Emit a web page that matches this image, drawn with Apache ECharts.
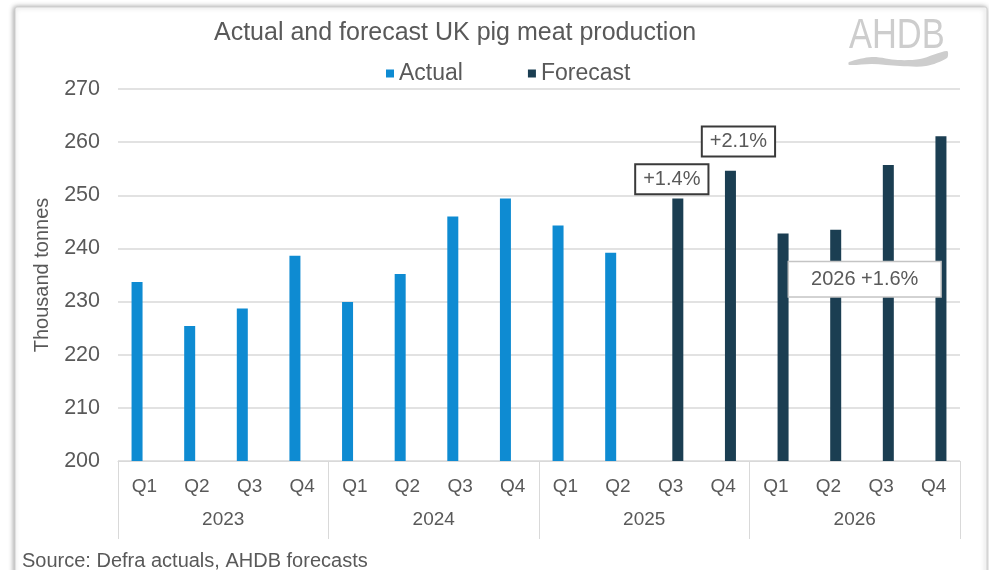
<!DOCTYPE html>
<html>
<head>
<meta charset="utf-8">
<script src="https://cdn.jsdelivr.net/npm/echarts@6/dist/echarts.min.js"></script>
<style>
  html, body { margin: 0; padding: 0; background: #fff; }
  #chart { width: 989px; height: 570px; }
</style>
</head>
<body>
<div id="chart"></div>
<script>
// Quarterly UK pig meat production, thousand tonnes
const quarters = ['Q1','Q2','Q3','Q4','Q1','Q2','Q3','Q4','Q1','Q2','Q3','Q4','Q1','Q2','Q3','Q4'];
const years = ['2023', '2024', '2025', '2026'];
const actual = [233.7, 225.4, 228.7, 238.6, 229.9, 235.2, 246.0, 249.4, 244.3, 239.2,
                null, null, null, null, null, null];
const forecast = [null, null, null, null, null, null, null, null, null, null,
                  249.4, 254.6, 242.8, 243.5, 255.7, 261.1];
const yTicks = { min: 200, max: 270, step: 10 };

// Growth call-outs: [category index, value anchor, text]
const callouts = [
  [10, 253.0, '+1.4%'],
  [11, 260.1, '+2.1%'],
  [13, 234.2, '2026 +1.6%']
];

const textGrey = '#595959';
const gridGrey = '#d9d9d9';
const font = '"Liberation Sans", Arial, sans-serif';

const chart = echarts.init(document.getElementById('chart'), null, { renderer: 'canvas' });

function calloutLabel(text, dx, border, bw, pad) {
  return {
    show: true, formatter: text, position: 'inside', offset: [dx, 0],
    fontFamily: font, fontSize: 20, color: textGrey,
    backgroundColor: '#fff', borderColor: border, borderWidth: bw,
    padding: pad
  };
}

const option = {
  backgroundColor: '#ffffff',
  animation: false,
  textStyle: { fontFamily: font, color: textGrey },
  title: {
    text: 'Actual and forecast UK pig meat production',
    left: 209,
    top: 16,
    textStyle: { fontFamily: font, fontSize: 25, fontWeight: 'normal', color: textGrey }
  },
  legend: {
    data: ['Actual', 'Forecast'],
    left: 381,
    top: 57,
    icon: 'rect',
    itemWidth: 8,
    itemHeight: 8,
    itemGap: 65,
    textStyle: { fontFamily: font, fontSize: 23, color: textGrey }
  },
  grid: { left: 118, right: 29, top: 89, bottom: 109, containLabel: false },
  xAxis: [
    {
      type: 'category',
      data: quarters,
      position: 'bottom',
      axisLine: { show: true, lineStyle: { color: gridGrey, width: 1 } },
      axisTick: { show: false },
      axisLabel: { fontFamily: font, fontSize: 19, color: textGrey, margin: 16, interval: 0 }
    },
    {
      type: 'category',
      data: years,
      position: 'bottom',
      axisLine: { show: false },
      axisTick: { show: true, length: 78, lineStyle: { color: gridGrey, width: 1 } },
      axisLabel: { fontFamily: font, fontSize: 19, color: textGrey, margin: 49, interval: 0 }
    }
  ],
  yAxis: {
    type: 'value',
    min: yTicks.min,
    max: yTicks.max,
    interval: yTicks.step,
    name: 'Thousand tonnes',
    nameLocation: 'middle',
    nameRotate: 90,
    nameGap: 66,
    nameTextStyle: { fontFamily: font, fontSize: 20, color: textGrey },
    axisLine: { show: false },
    axisTick: { show: false },
    splitLine: { lineStyle: { color: gridGrey, width: 1.5 } },
    axisLabel: { fontFamily: font, fontSize: 21.5, color: textGrey, margin: 18 }
  },
  series: [
    {
      name: 'Actual',
      type: 'bar',
      data: actual,
      barWidth: 11,
      barGap: '32%',
      itemStyle: { color: '#0e8bd2' }
    },
    {
      name: 'Forecast',
      type: 'bar',
      data: forecast,
      barWidth: 11,
      itemStyle: { color: '#1b3e52' },
      markPoint: {
        symbol: 'rect',
        symbolSize: 0,
        silent: true,
        data: [
          { coord: [callouts[0][0], callouts[0][1]],
            label: calloutLabel(callouts[0][2], -6, '#3a3a3a', 2, [5, 7, 3, 7]) },
          { coord: [callouts[1][0], callouts[1][1]],
            label: calloutLabel(callouts[1][2], 8, '#3a3a3a', 2, [5, 7, 3, 7]) },
          { coord: [callouts[2][0], callouts[2][1]],
            label: calloutLabel(callouts[2][2], 29, '#c4c4c4', 1.5, [8, 22, 6, 22]) }
        ]
      }
    }
  ],
  graphic: [
    // card frame with soft shadow
    {
      type: 'rect', z: -10, silent: true,
      shape: { x: 15, y: 7, width: 972, height: 620, r: 2 },
      style: {
        fill: '#ffffff', stroke: '#cfcfcf', lineWidth: 1,
        shadowBlur: 5, shadowColor: 'rgba(0,0,0,0.35)', shadowOffsetX: -1, shadowOffsetY: 0
      }
    },
    // AHDB logo wordmark
    {
      type: 'text', z: 5, silent: true,
      x: 849, y: 15, scaleX: 0.82,
      style: { text: 'AHDB', fill: '#cdcdcd', font: '42px "Liberation Sans", Arial, sans-serif' }
    },
    {
      type: 'polygon', z: 5, silent: true,
      shape: {
        points: [[849, 62], [872, 57], [898, 60], [920, 59], [947, 51],
                 [947, 58], [926, 66], [900, 66], [872, 64], [849, 65]],
        smooth: 0.3
      },
      style: { fill: '#cdcdcd' }
    },
    // source note
    {
      type: 'text', z: 5, silent: true,
      x: 22, y: 551,
      style: { text: 'Source: Defra actuals, AHDB forecasts', fill: textGrey, font: '20px "Liberation Sans", Arial, sans-serif' }
    }
  ]
};

chart.setOption(option);
</script>
</body>
</html>
